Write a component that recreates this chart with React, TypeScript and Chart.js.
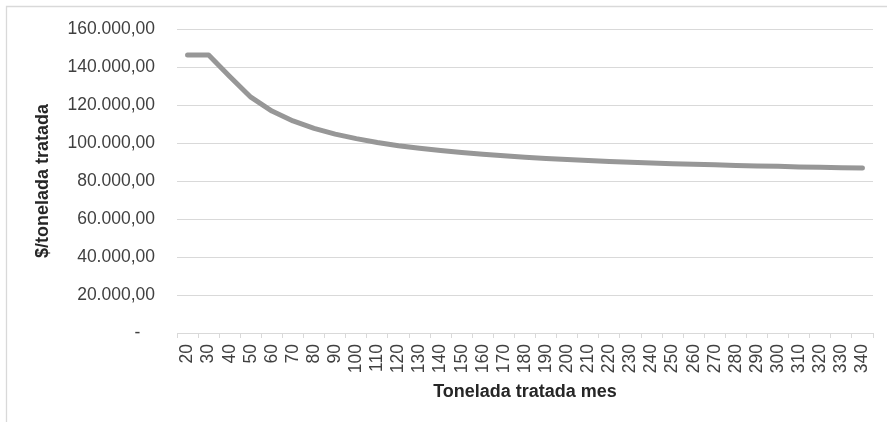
import React, { useEffect, useRef } from "react";
import { Chart, registerables } from "chart.js";

Chart.register(...registerables);

const categories: string[] = [
  "20", "30", "40", "50", "60", "70", "80", "90", "100", "110", "120",
  "130", "140", "150", "160", "170", "180", "190", "200", "210", "220",
  "230", "240", "250", "260", "270", "280", "290", "300", "310", "320",
  "330", "340",
];

const costPerTon: number[] = [
  146300, 146300, 135000, 124100, 116800, 111600, 107700, 104700, 102300,
  100300, 98600, 97200, 96000, 95000, 94100, 93300, 92500, 91900, 91300,
  90800, 90300, 89900, 89500, 89100, 88800, 88500, 88200, 87900, 87700,
  87400, 87200, 87000, 86800,
];

const yMin = 0;
const yMax = 160000;
const yStep = 20000;

const xTitle = "Tonelada tratada mes";
const yTitle = "$/tonelada tratada";

function formatValue(v: number): string {
  if (v === 0) return "-   ";
  const intPart = Math.round(v).toString().replace(/\B(?=(\d{3})+(?!\d))/g, ".");
  return intPart + ",00";
}

const frame = {
  id: "frame",
  beforeDraw(chart: any) {
    const ctx = chart.ctx;
    ctx.save();
    ctx.fillStyle = "#ffffff";
    ctx.fillRect(0, 0, chart.width, chart.height);
    ctx.strokeStyle = "#d9d9d9";
    ctx.lineWidth = 1.3;
    ctx.beginPath();
    ctx.moveTo(6.5, chart.height + 2);
    ctx.lineTo(6.5, 6.5);
    ctx.lineTo(chart.width + 2, 6.5);
    ctx.stroke();
    ctx.restore();
  },
};

export default function App() {
  const ref = useRef<HTMLCanvasElement | null>(null);

  useEffect(() => {
    if (!ref.current) return;
    const font = "'Liberation Sans', Arial, sans-serif";
    const chart = new Chart(ref.current, {
      type: "line",
      data: {
        labels: categories,
        datasets: [
          {
            data: costPerTon,
            borderColor: "#979797",
            borderWidth: 5,
            borderCapStyle: "round",
            borderJoinStyle: "round",
            pointRadius: 0,
            tension: 0,
            fill: false,
          },
        ],
      },
      options: {
        animation: false,
        responsive: true,
        maintainAspectRatio: false,
        layout: { padding: { top: 29, right: 14, bottom: 0, left: 0 } },
        plugins: {
          legend: { display: false },
          tooltip: { enabled: false },
          title: { display: false },
        },
        scales: {
          x: {
            type: "category",
            offset: true,
            afterFit(scale: any) {
              scale.height = 89;
              scale.paddingLeft = 0;
              scale.paddingRight = 0;
            },
            grid: {
              offset: true,
              drawOnChartArea: false,
              drawTicks: true,
              tickLength: 5,
              color: "#d9d9d9",
              lineWidth: 1,
            },
            border: { display: true, color: "#d9d9d9", width: 1 },
            ticks: {
              autoSkip: false,
              maxRotation: 90,
              minRotation: 90,
              padding: 6,
              color: "#404040",
              font: { family: font, size: 17.5 },
            },
            title: {
              display: true,
              text: xTitle,
              color: "#262626",
              font: { family: font, size: 18, weight: "bold" },
              padding: { top: 0, bottom: 19.6 },
            },
          },
          y: {
            min: yMin,
            max: yMax,
            afterFit(scale: any) {
              scale.width = 177;
              scale.paddingTop = 0;
              scale.paddingBottom = 0;
            },
            grid: {
              drawTicks: false,
              color: "#d9d9d9",
              lineWidth: 1,
            },
            border: { display: false },
            ticks: {
              stepSize: yStep,
              padding: 22,
              color: "#404040",
              font: { family: font, size: 17.5 },
              callback: (v: any) => formatValue(Number(v)),
            },
            title: {
              display: true,
              text: yTitle,
              color: "#262626",
              font: { family: font, size: 18, weight: "bold" },
              padding: { top: 31.9, bottom: 0 },
            },
          },
        },
      },
      plugins: [frame],
    });
    return () => chart.destroy();
  }, []);

  return (
    <div style={{ position: "fixed", left: 0, top: 0, width: 887, height: 422 }}>
      <canvas ref={ref} />
    </div>
  );
}
